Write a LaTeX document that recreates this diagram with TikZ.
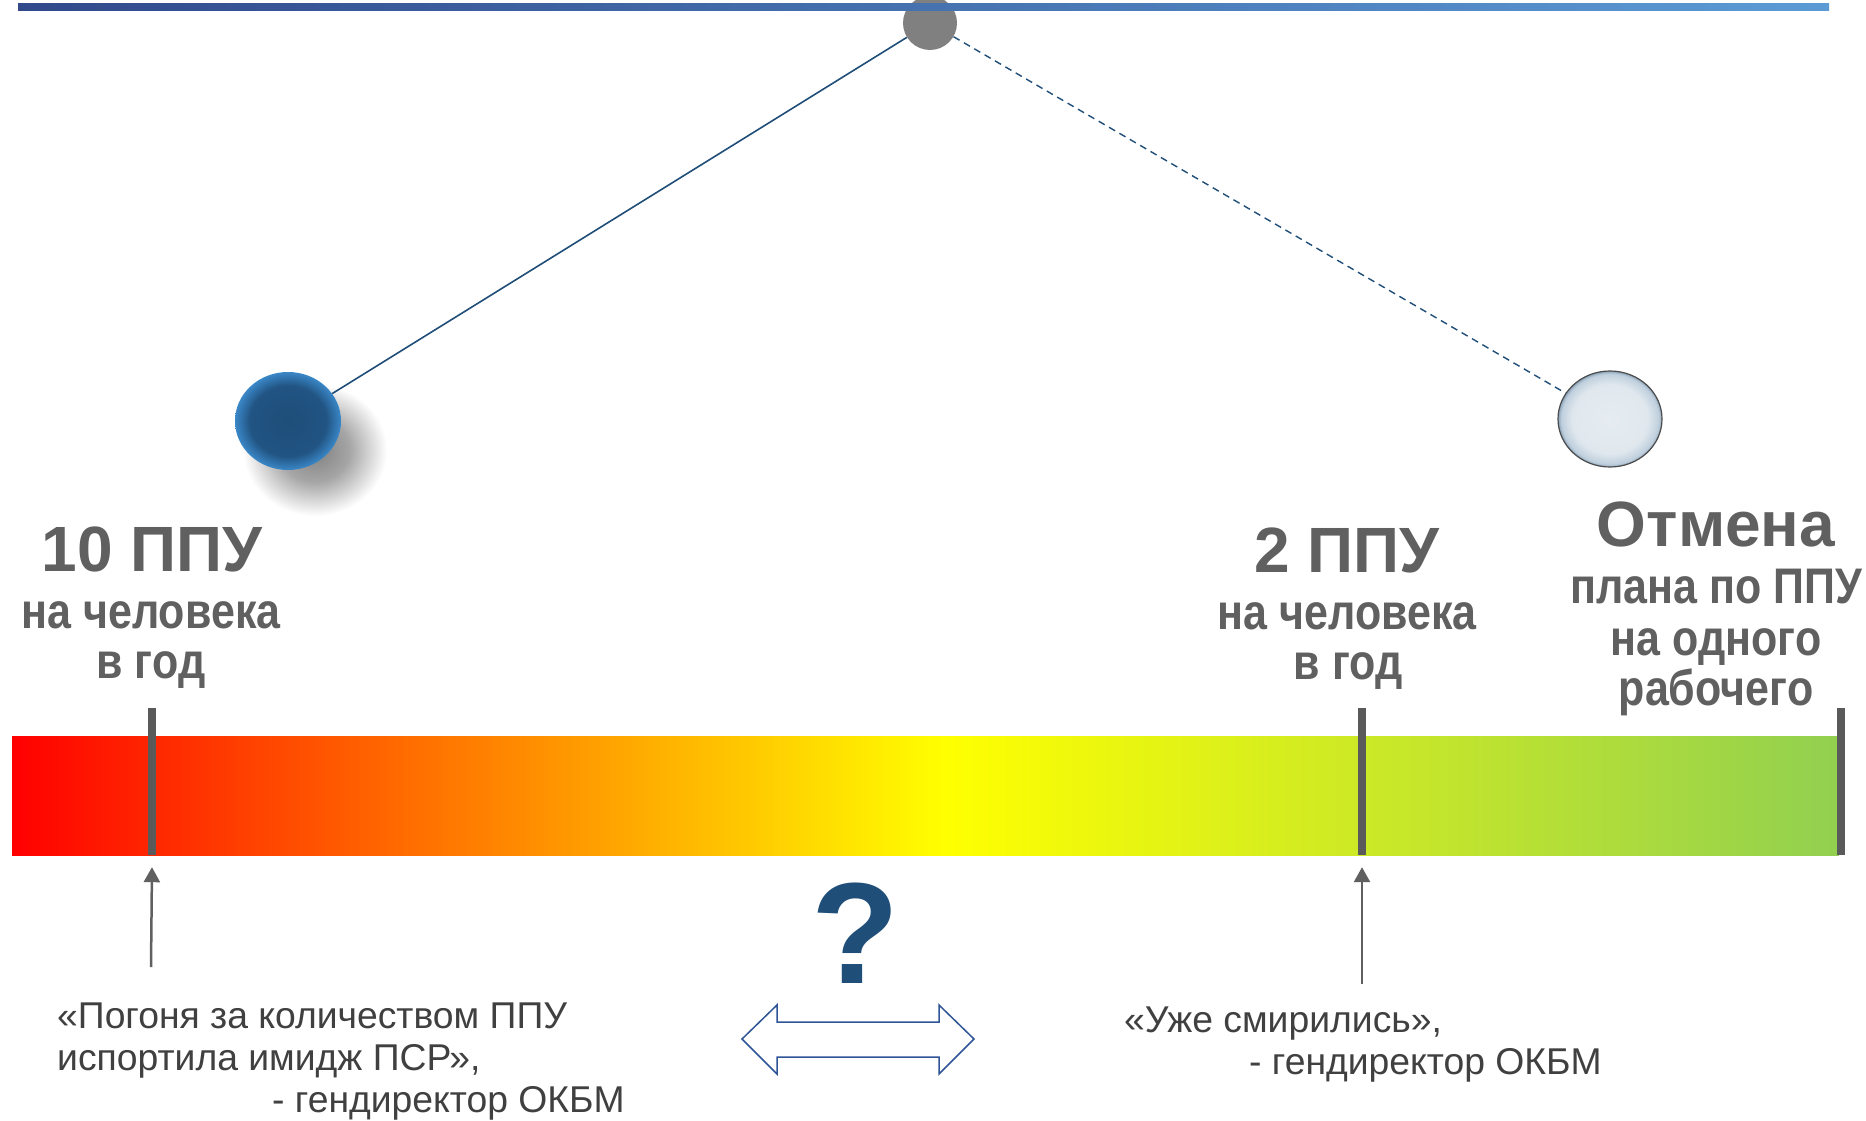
\documentclass[tikz,border=0pt]{standalone}
\usepackage{fontspec}
\usepackage{graphicx}
\setmainfont{Liberation Sans}
\usetikzlibrary{arrows.meta,shapes.geometric}
\definecolor{txtgray}{HTML}{606060}
\definecolor{qgray}{HTML}{404040}
\definecolor{tickgray}{HTML}{5A5A5A}
\definecolor{arrowgray}{HTML}{606060}
\definecolor{navy}{HTML}{1F4E79}
\definecolor{arrowblue}{HTML}{2F5597}
\definecolor{barleft}{HTML}{31498A}
\definecolor{barright}{HTML}{5B9BD5}
\definecolor{greenend}{HTML}{92D050}
\definecolor{pivgray}{HTML}{808080}
\definecolor{bc1}{HTML}{1E4E79}
\definecolor{bc2}{HTML}{215483}
\definecolor{bc3}{HTML}{3A87C7}
\definecolor{lc1}{HTML}{E6ECF1}
\definecolor{lc2}{HTML}{E0E8EE}
\definecolor{lc3}{HTML}{BFCFDD}
\definecolor{lc4}{HTML}{8AA3B8}
\pgfdeclarehorizontalshading{ryg}{100bp}{color(0bp)=(red); color(25bp)=(red); color(50.5bp)=(yellow); color(75bp)=(greenend); color(100bp)=(greenend)}
\pgfdeclareradialshading{bluesphere}{\pgfpoint{0bp}{0bp}}{color(0bp)=(bc1); color(18bp)=(bc2); color(25bp)=(bc3); color(50bp)=(bc3)}
\pgfdeclareradialshading{lightsphere}{\pgfpoint{0bp}{0bp}}{color(0bp)=(lc1); color(18bp)=(lc2); color(23.5bp)=(lc3); color(25bp)=(lc4); color(50bp)=(lc4)}
\pgfdeclareradialshading{ballshadow}{\pgfpoint{0bp}{0bp}}{color(0bp)=(black!50); color(12bp)=(black!35); color(25bp)=(white); color(50bp)=(white)}
\newcommand{\cond}[1]{\scalebox{0.86}[1]{#1}}
\begin{document}
\begin{tikzpicture}[x=1pt,y=-1pt,
  head/.style={font=\fontsize{64}{64}\selectfont\bfseries, text=txtgray, inner sep=0pt, anchor=base},
  sub/.style={font=\fontsize{50}{50}\selectfont\bfseries, text=txtgray, inner sep=0pt, anchor=base},
  quote/.style={font=\fontsize{37.3}{37.3}\selectfont, text=qgray, inner sep=0pt, anchor=base west},
  tickmark/.style={fill=tickgray, draw=none, rectangle, minimum width=8pt, minimum height=147pt, inner sep=0pt},
  ptr/.style={draw=arrowgray, line width=2.5pt, -{Triangle[length=15pt,width=16pt]}},
]
\useasboundingbox (0,0) rectangle (1866,1121);
\fill[white] (0,0) rectangle (1866,1121);

% shadow of the blue ball
\shade[shading=ballshadow] (315,450) ellipse [x radius=72pt, y radius=66pt];

% balls and pivot
\node[ellipse, minimum width=106pt, minimum height=98pt, inner sep=0pt, shade, shading=bluesphere] (b1) at (288,421) {};
\node[ellipse, minimum width=104pt, minimum height=96pt, inner sep=0pt, shade, shading=lightsphere, draw=black!70, line width=1.2pt] (b2) at (1610,419) {};
\node[circle, minimum size=54pt, inner sep=0pt, fill=pivgray] (piv) at (930,23) {};

% strings
\draw[navy, line width=1.6pt] (piv) -- (b1);
\draw[navy, line width=1.4pt, dash pattern=on 7pt off 5pt] (piv) -- (b2);

% top bar
\fill[left color=barleft, right color=barright] (18,4) rectangle (1829,11);

% scale bar
\shade[shading=ryg] (12,736) rectangle (1839,855);
\node[tickmark] (t1) at (152,781.5) {};
\node[tickmark] (t2) at (1362,781.5) {};
\node[tickmark] (t3) at (1841,781.5) {};

% headings
\node[head] (h1) at (152,571) {10 ППУ};
\node[sub] (h1b) at (151,628) {\cond{на человека}};
\node[sub] (h1c) at (151,678) {\cond{в год}};
\node[head] (h2) at (1347,572) {2 ППУ};
\node[sub] (h2b) at (1347,629) {\cond{на человека}};
\node[sub] (h2c) at (1348,679) {\cond{в год}};
\node[head] (h3) at (1716,546) {Отмена};
\node[sub] (h3b) at (1716,603) {\cond{плана по ППУ}};
\node[sub] (h3c) at (1716,655) {\cond{на одного}};
\node[sub] (h3d) at (1716,705) {\cond{рабочего}};

% pointers
\coordinate (a1) at (151,967);
\coordinate (a2) at (1362,984);
\draw[ptr] (a1) -- ([yshift=-12pt]t1.south);
\draw[ptr] (a2) -- ([yshift=-12pt]t2.south);

% quotes
\node[quote] (q1a) at (57,1028) {«Погоня за количеством ППУ};
\node[quote] (q1b) at (57,1070) {испортила имидж ПСР»,};
\node[quote] (q1c) at (272,1112) {- гендиректор ОКБМ};
\node[quote] (q2a) at (1124,1032) {«Уже смирились»,};
\node[quote] (q2b) at (1249,1074) {- гендиректор ОКБМ};

% question and double arrow
\node[font=\fontsize{144}{144}\selectfont\bfseries, text=navy, anchor=base, inner sep=0pt] (qm) at (855,983) {?};
\draw[arrowblue, line width=1.5pt, fill=white, line join=miter]
  (742,1039) -- (777,1005) -- (777,1022) -- (939,1022) -- (939,1005) -- (974,1039)
  -- (939,1074) -- (939,1057) -- (777,1057) -- (777,1074) -- cycle;
\end{tikzpicture}
\end{document}
